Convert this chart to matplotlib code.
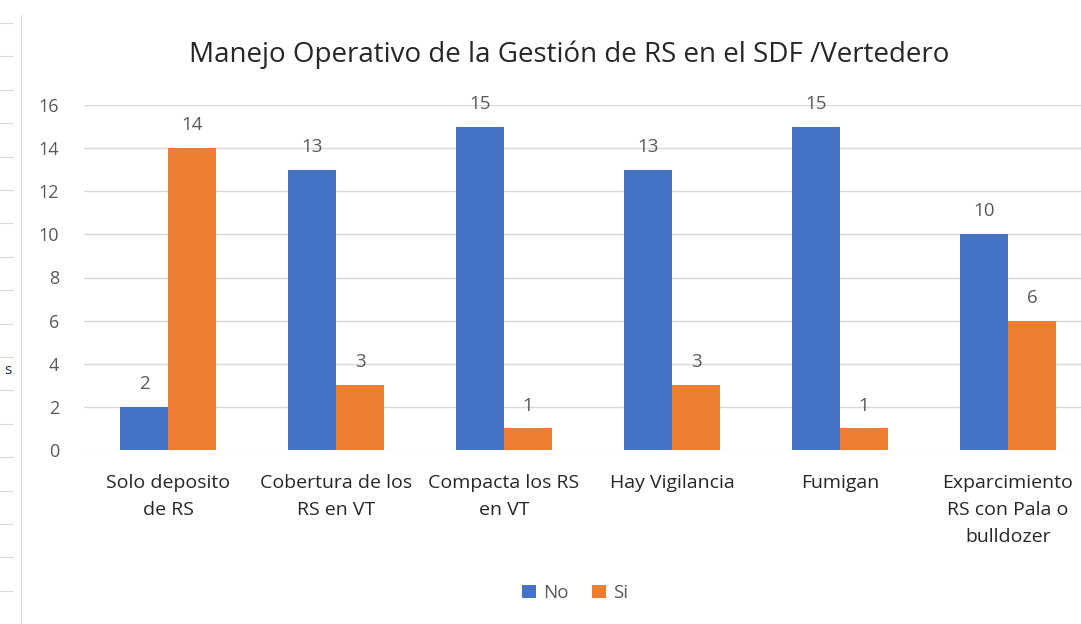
import numpy as np
import matplotlib.pyplot as plt

categorias = ['Solo deposito\nde RS', 'Cobertura de los\nRS en VT', 'Compacta los RS\nen VT',
              'Hay Vigilancia', 'Fumigan', 'Exparcimiento\nRS con Pala o\nbulldozer']
no_vals = [2, 13, 15, 13, 15, 10]
si_vals = [14, 3, 1, 3, 1, 6]

plt.rcParams['font.family'] = ['Open Sans', 'DejaVu Sans']
gris = '#595959'

fig = plt.figure(figsize=(10.81, 6.24), dpi=100)
ax = fig.add_axes([84 / 1081, 1 - 450 / 624, 1008 / 1081, 345 / 624])

x = np.arange(len(categorias))
w = 0.286
b1 = ax.bar(x - w / 2, no_vals, w, color='#4472C4', label='No', zorder=3)
b2 = ax.bar(x + w / 2, si_vals, w, color='#ED7D31', label='Si', zorder=3)
for bars in (b1, b2):
    ax.bar_label(bars, padding=10, color=gris, fontsize=13.5)

ax.set_xlim(-0.5, 5.5)
ax.set_ylim(0, 16)
ax.set_yticks(range(0, 17, 2))
ax.set_xticks(x)
ax.set_xticklabels(categorias, color='#262626', fontsize=14, linespacing=1.65)
ax.tick_params(axis='y', colors=gris, labelsize=13, length=0, pad=18)
ax.tick_params(axis='x', length=0, pad=17)
ax.grid(axis='y', color='#d9d9d9', linewidth=1, zorder=0)
for s in ax.spines.values():
    s.set_visible(False)

fig.text(569 / 1081, 1 - 55 / 624, 'Manejo Operativo de la Gestión de RS en el SDF /Vertedero',
         ha='center', va='center', fontsize=20, color='#262626')

fig.legend(loc='center', bbox_to_anchor=(575 / 1081, 1 - 593 / 624), ncol=2, frameon=False,
           fontsize=13.5, labelcolor=gris, handlelength=0.75, handleheight=0.75,
           handletextpad=0.4, columnspacing=1.2)

# borde izquierdo recortado de la imagen original
deco = fig.add_axes([0, 0, 21 / 1081, 1 - 15 / 624])
deco.set_xlim(0, 1)
deco.set_ylim(624, 15)
deco.patch.set_visible(False)
for k in ('top', 'bottom', 'left'):
    deco.spines[k].set_visible(False)
deco.spines['right'].set_color('#d9d9d9')
deco.set_xticks([])
deco.set_yticks(np.arange(23, 624, 33.4))
deco.yaxis.set_ticks_position('left')
deco.tick_params(axis='y', direction='in', colors='#d9d9d9', length=9, labelleft=False)
fig.text(4 / 1081, 1 - 370 / 624, 's', fontsize=11, color='#203864', va='center')

fig.savefig('out.png', dpi=100)
